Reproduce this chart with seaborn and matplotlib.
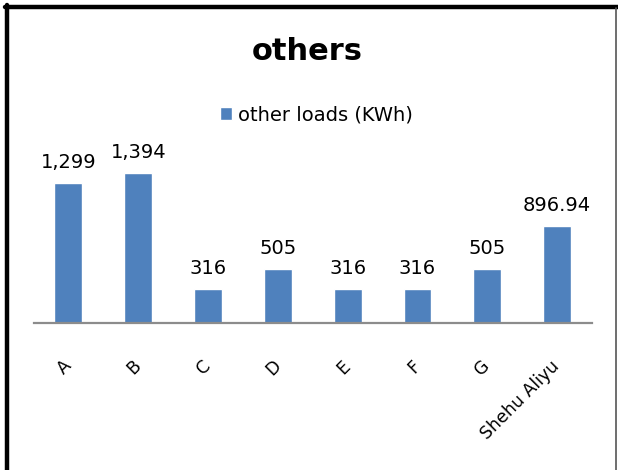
import seaborn as sns
import matplotlib.pyplot as plt
import pandas as pd
from matplotlib.lines import Line2D

sns.set_theme(style="white")
plt.rcParams["font.family"] = ["DejaVu Sans"]
plt.rcParams["text.color"] = "black"
plt.rcParams["xtick.color"] = "black"

# chart data
sites = ["A", "B", "C", "D", "E", "F", "G", "Shehu Aliyu"]
other_loads = [1299, 1394, 316, 505, 316, 316, 505, 896.94]
series_name = "other loads (KWh)"
title = "others"

BLUE = "#4F81BD"


def fmt(v):
    return f"{v:,.0f}" if float(v).is_integer() else f"{v:,.2f}"


data = pd.DataFrame({"site": sites, "kwh": other_loads})

fig = plt.figure(figsize=(6.18, 4.70), dpi=100)
ax = fig.add_axes([33.5 / 618, 147 / 470, 558.5 / 618, 172.2 / 470])

sns.barplot(data=data, x="site", y="kwh", color=BLUE, saturation=1,
            width=0.4, label=series_name, ax=ax)
ax.bar_label(ax.containers[0], labels=[fmt(v) for v in other_loads],
             padding=8, fontsize=14, color="black")

ax.set_ylim(0, 1600)
ax.set_xlabel("")
ax.set_ylabel("")
ax.set_yticks([])
for side in ["top", "right", "left"]:
    ax.spines[side].set_visible(False)
ax.spines["bottom"].set_color("#8c8c8c")
ax.spines["bottom"].set_linewidth(1.6)

ax.tick_params(axis="x", length=0, pad=29, labelsize=12.5)
for lab in ax.get_xticklabels():
    lab.set_rotation(45)
    lab.set_ha("right")
    lab.set_va("center")
    lab.set_rotation_mode("anchor")

leg = ax.legend(loc="center", bbox_to_anchor=(316 / 618, 1 - 115 / 470),
                bbox_transform=fig.transFigure, frameon=False, fontsize=14,
                handlelength=0.62, handleheight=0.62, handletextpad=0.3)
for t in leg.get_texts():
    t.set_color("black")

fig.text(307.5 / 618, 1 - 51 / 470, title, ha="center", va="center",
         fontsize=22, fontweight="bold", color="black")

# chart frame
fig.add_artist(Line2D([5 / 618, 1], [1 - 7 / 470] * 2, color="black",
                      lw=3.2, transform=fig.transFigure))
fig.add_artist(Line2D([6.5 / 618] * 2, [0, 1 - 5 / 470], color="black",
                      lw=3.2, transform=fig.transFigure))
fig.add_artist(Line2D([616 / 618] * 2, [0, 1 - 8 / 470], color="#555555",
                      lw=1.2, transform=fig.transFigure))

fig.savefig("out.png", dpi=100)
